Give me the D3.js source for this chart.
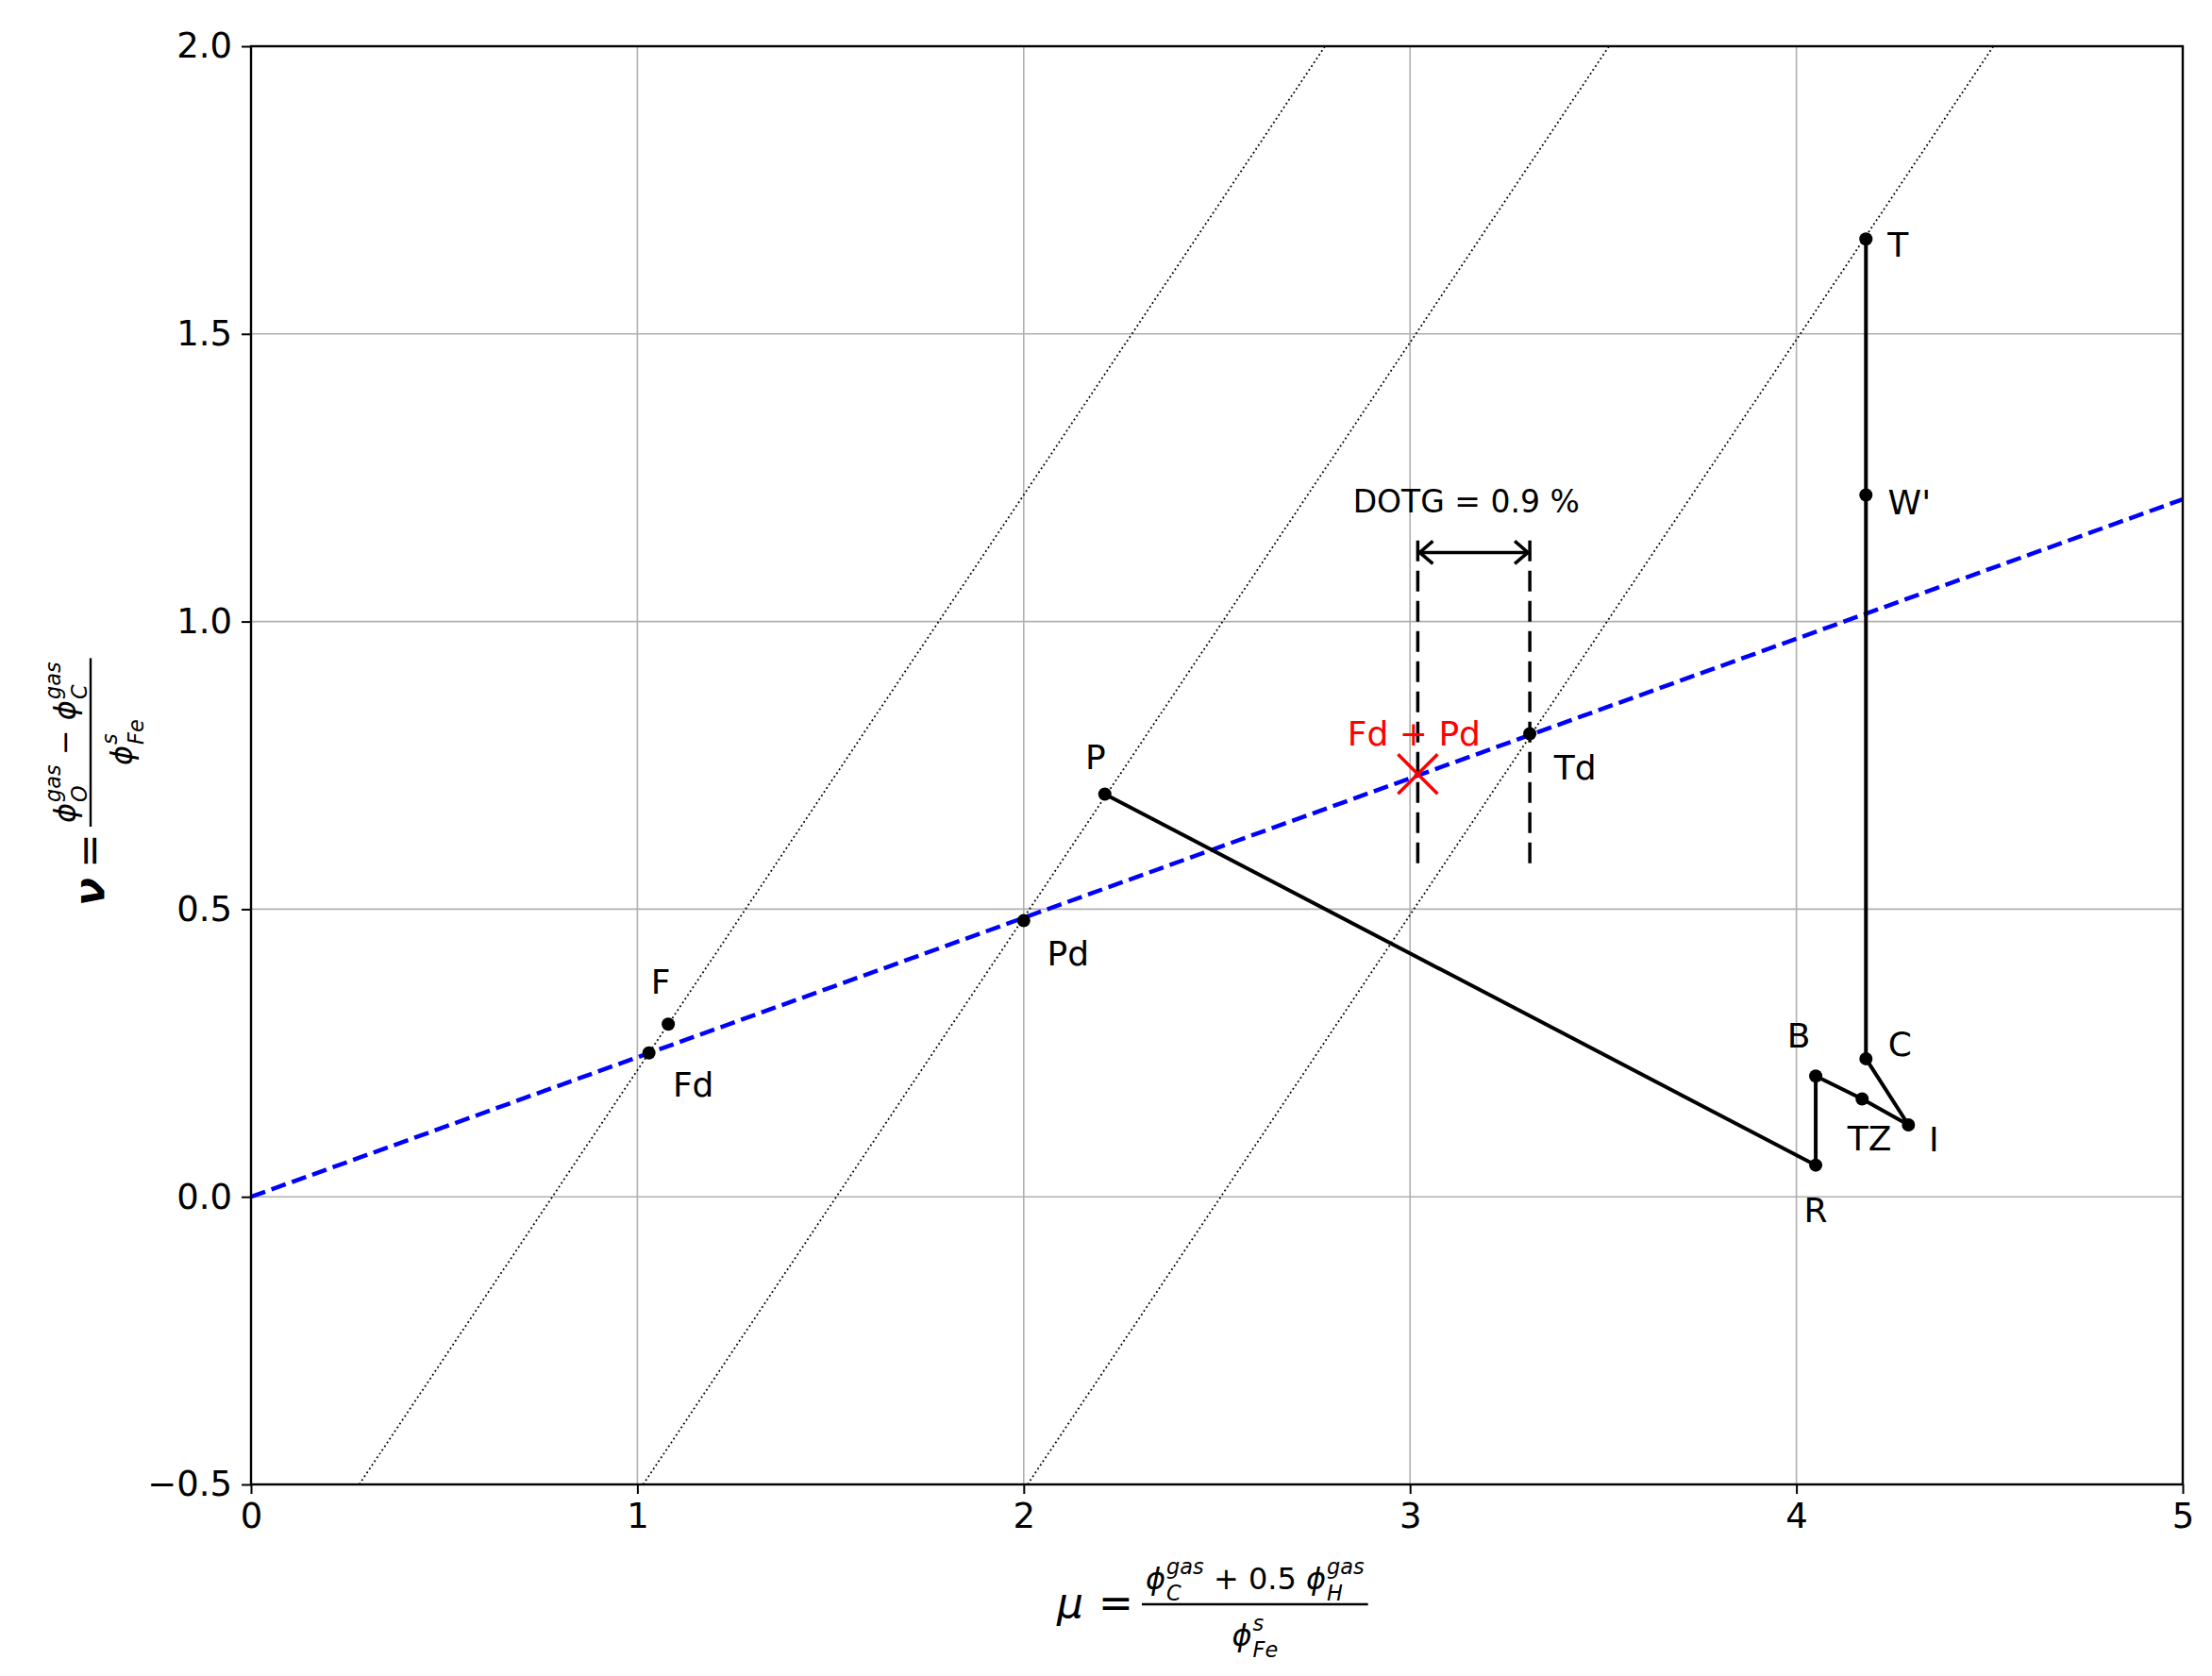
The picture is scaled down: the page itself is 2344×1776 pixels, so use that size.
<!DOCTYPE html>
<html><head><meta charset="utf-8">
<script src="https://cdn.jsdelivr.net/npm/d3@7"></script>
<style>body{margin:0;background:#fff}text{font-family:"DejaVu Sans",sans-serif}</style>
</head><body><div id="chart"></div>
<script>
const xTicks = [0, 1, 2, 3, 4, 5];
const yTicks = [-0.5, 0, 0.5, 1.0, 1.5, 2.0];
const pathNames = ["P", "R", "B", "TZ", "I", "C", "W'", "T"];
const pathX = [2.21, 4.05, 4.05, 4.17, 4.29, 4.18, 4.18, 4.18];
const pathY = [0.70, 0.055, 0.21, 0.17, 0.125, 0.24, 1.22, 1.665];
const extraNames = ["F", "Fd", "Pd", "Td"];
const extraX = [1.08, 1.03, 2.0, 3.31];
const extraY = [0.30, 0.25, 0.48, 0.805];
const dottedOffsets = [0.78, 1.515, 2.51];
const blueSlope = 0.2425;
const mixPoint = [3.02, 0.735];
const dotgX = [3.02, 3.31];
const dotgYRange = [0.58, 1.15];
const dotgArrowY = 1.12;

const W = 2344, H = 1776;
const m = {l: 266, r: 2313, t: 49, b: 1573};
const svg = d3.select("#chart").append("svg").attr("width", W).attr("height", H);
const x = d3.scaleLinear().domain([0, 5]).range([m.l, m.r]);
const y = d3.scaleLinear().domain([-0.5, 2]).range([m.b, m.t]);

svg.append("defs").append("clipPath").attr("id", "clip")
  .append("rect").attr("x", m.l).attr("y", m.t).attr("width", m.r - m.l).attr("height", m.b - m.t);

// grid
svg.append("g").selectAll("line").data(xTicks).enter().append("line")
  .attr("x1", d => x(d)).attr("x2", d => x(d)).attr("y1", m.t).attr("y2", m.b)
  .attr("stroke", "#b0b0b0").attr("stroke-width", 1.6);
svg.append("g").selectAll("line").data(yTicks).enter().append("line")
  .attr("y1", d => y(d)).attr("y2", d => y(d)).attr("x1", m.l).attr("x2", m.r)
  .attr("stroke", "#b0b0b0").attr("stroke-width", 1.6);

const plot = svg.append("g").attr("clip-path", "url(#clip)");

// dotted lines y = x - c
plot.selectAll(".dot").data(dottedOffsets).enter().append("line")
  .attr("x1", d => x(-0.5 + d)).attr("y1", y(-0.5))
  .attr("x2", d => x(2 + d)).attr("y2", y(2))
  .attr("stroke", "#000").attr("stroke-width", 1.8).attr("stroke-dasharray", "1.8,3");

// blue dashed
plot.append("line").attr("x1", x(0)).attr("y1", y(0)).attr("x2", x(5)).attr("y2", y(5 * blueSlope))
  .attr("stroke", "#0000ff").attr("stroke-width", 4.5).attr("stroke-dasharray", "16,7");

// vertical dashed DOTG
plot.selectAll(".vd").data(dotgX).enter().append("line")
  .attr("x1", d => x(d)).attr("x2", d => x(d))
  .attr("y1", y(dotgYRange[0])).attr("y2", y(dotgYRange[1]))
  .attr("stroke", "#000").attr("stroke-width", 3.5).attr("stroke-dasharray", "22,10");

// arrow
const ay = y(dotgArrowY), ax0 = x(dotgX[0]), ax1 = x(dotgX[1]);
plot.append("line").attr("x1", ax0).attr("x2", ax1).attr("y1", ay).attr("y2", ay).attr("stroke", "#000").attr("stroke-width", 3.5);
plot.append("path").attr("d", `M${ax0 + 16},${ay - 12} L${ax0 + 2},${ay} L${ax0 + 16},${ay + 12} M${ax1 - 16},${ay - 12} L${ax1 - 2},${ay} L${ax1 - 16},${ay + 12}`)
  .attr("fill", "none").attr("stroke", "#000").attr("stroke-width", 3.5);
svg.append("text").attr("x", (ax0 + ax1) / 2 - 8).attr("y", y(1.19)).attr("text-anchor", "middle")
  .attr("font-size", 33).text("DOTG = 0.9 %");

// path
const line = d3.line().x(i => x(pathX[i])).y(i => y(pathY[i]));
plot.append("path").attr("d", line(d3.range(pathX.length)))
  .attr("fill", "none").attr("stroke", "#000").attr("stroke-width", 4);
plot.selectAll(".pp").data(d3.range(pathX.length)).enter().append("circle")
  .attr("cx", i => x(pathX[i])).attr("cy", i => y(pathY[i])).attr("r", 7);
plot.selectAll(".ep").data(d3.range(extraX.length)).enter().append("circle")
  .attr("cx", i => x(extraX[i])).attr("cy", i => y(extraY[i])).attr("r", 7);

// red X
const mx = x(mixPoint[0]), my = y(mixPoint[1]);
svg.append("path").attr("d", `M${mx - 21},${my - 21}L${mx + 21},${my + 21}M${mx - 21},${my + 21}L${mx + 21},${my - 21}`)
  .attr("stroke", "#ff0000").attr("stroke-width", 3.5);
svg.append("text").attr("x", mx - 4).attr("y", my - 30).attr("text-anchor", "middle")
  .attr("fill", "#ff0000").attr("font-size", 36).text("Fd + Pd");

// labels: offsets in px
const labelOff = {P: [-10, -26], R: [0, 60], B: [-18, -30], TZ: [8, 54], I: [27, 28], C: [36, -3], "W'": [46, 21], T: [34, 19],
  F: [-8, -32], Fd: [47, 46], Pd: [47, 47], Td: [48, 49]};
const allNames = pathNames.concat(extraNames), allX = pathX.concat(extraX), allY = pathY.concat(extraY);
svg.selectAll(".lab").data(d3.range(allNames.length)).enter().append("text")
  .attr("x", i => x(allX[i]) + labelOff[allNames[i]][0])
  .attr("y", i => y(allY[i]) + labelOff[allNames[i]][1])
  .attr("text-anchor", "middle").attr("font-size", 36).text(i => allNames[i]);

// axes
const xa = svg.append("g").attr("transform", `translate(0,${m.b})`)
  .call(d3.axisBottom(x).tickValues(xTicks).tickFormat(d3.format("d")).tickSize(10).tickPadding(10));
const ya = svg.append("g").attr("transform", `translate(${m.l},0)`)
  .call(d3.axisLeft(y).tickValues(yTicks).tickFormat(d => d3.format(".1f")(d).replace("-", "\u2212")).tickSize(10).tickPadding(10));
[xa, ya].forEach(a => {
  a.selectAll("text").attr("font-size", 37).attr("font-family", "DejaVu Sans").attr("fill", "#000");
  a.selectAll("line").attr("stroke-width", 2);
  a.select(".domain").remove();
});
svg.append("rect").attr("x", m.l).attr("y", m.t).attr("width", m.r - m.l).attr("height", m.b - m.t)
  .attr("fill", "none").attr("stroke", "#000").attr("stroke-width", 2.4);

// math helpers
const PHI = "\u03D5";
function term(g, x0, y0, base, sup, sub, fs) {
  const b = g.append("text").attr("x", x0).attr("y", y0).attr("font-size", fs).attr("font-style", "italic").text(base);
  const bw = b.node().getComputedTextLength();
  const s1 = g.append("text").attr("x", x0 + bw + 1).attr("y", y0 - fs * 0.5).attr("font-size", fs * 0.7).attr("font-style", "italic").text(sup);
  const s2 = g.append("text").attr("x", x0 + bw + 1).attr("y", y0 + fs * 0.36).attr("font-size", fs * 0.7).attr("font-style", "italic").text(sub);
  return x0 + bw + 1 + Math.max(s1.node().getComputedTextLength(), s2.node().getComputedTextLength());
}
function plain(g, x0, y0, s, fs) {
  const t = g.append("text").attr("x", x0).attr("y", y0).attr("font-size", fs).attr("xml:space", "preserve").text(s);
  return x0 + t.node().getComputedTextLength();
}
function fraction(g, x0, numParts, denParts, fs) {
  const num = g.append("g"), den = g.append("g");
  let cx = 0;
  numParts.forEach(p => { cx = p.length === 1 ? plain(num, cx, 0, p[0], fs) : term(num, cx, 0, p[0], p[1], p[2], fs); });
  const nw = cx;
  const dw = term(den, 0, 0, denParts[0], denParts[1], denParts[2], fs);
  num.attr("transform", `translate(${x0 + 4},-16)`);
  den.attr("transform", `translate(${x0 + 4 + (nw - dw) / 2},${fs + 12})`);
  g.append("line").attr("x1", x0).attr("x2", x0 + nw + 8).attr("y1", 0).attr("y2", 0).attr("stroke", "#000").attr("stroke-width", 2.4);
}

// x label
const FS = 32;
const xl = svg.append("g").attr("transform", "translate(1120,1700)");
xl.append("text").attr("x", 0).attr("y", 14).attr("font-size", 44).attr("font-style", "italic").text("μ");
plain(xl, 30, 14, " =", 44);
fraction(xl, 90, [[PHI, "gas", "C"], [" + 0.5 "], [PHI, "gas", "H"]], [PHI, "s", "Fe"], FS);

// y label
const yl = svg.append("g").attr("transform", "translate(96,960) rotate(-90)");
yl.append("text").attr("x", 0).attr("y", 14).attr("font-size", 44).attr("font-weight", "bold").attr("font-style", "italic").text("ν");
plain(yl, 26, 14, " =", 44);
fraction(yl, 84, [[PHI, "gas", "O"], [" − "], [PHI, "gas", "C"]], [PHI, "s", "Fe"], FS);
</script></body></html>
